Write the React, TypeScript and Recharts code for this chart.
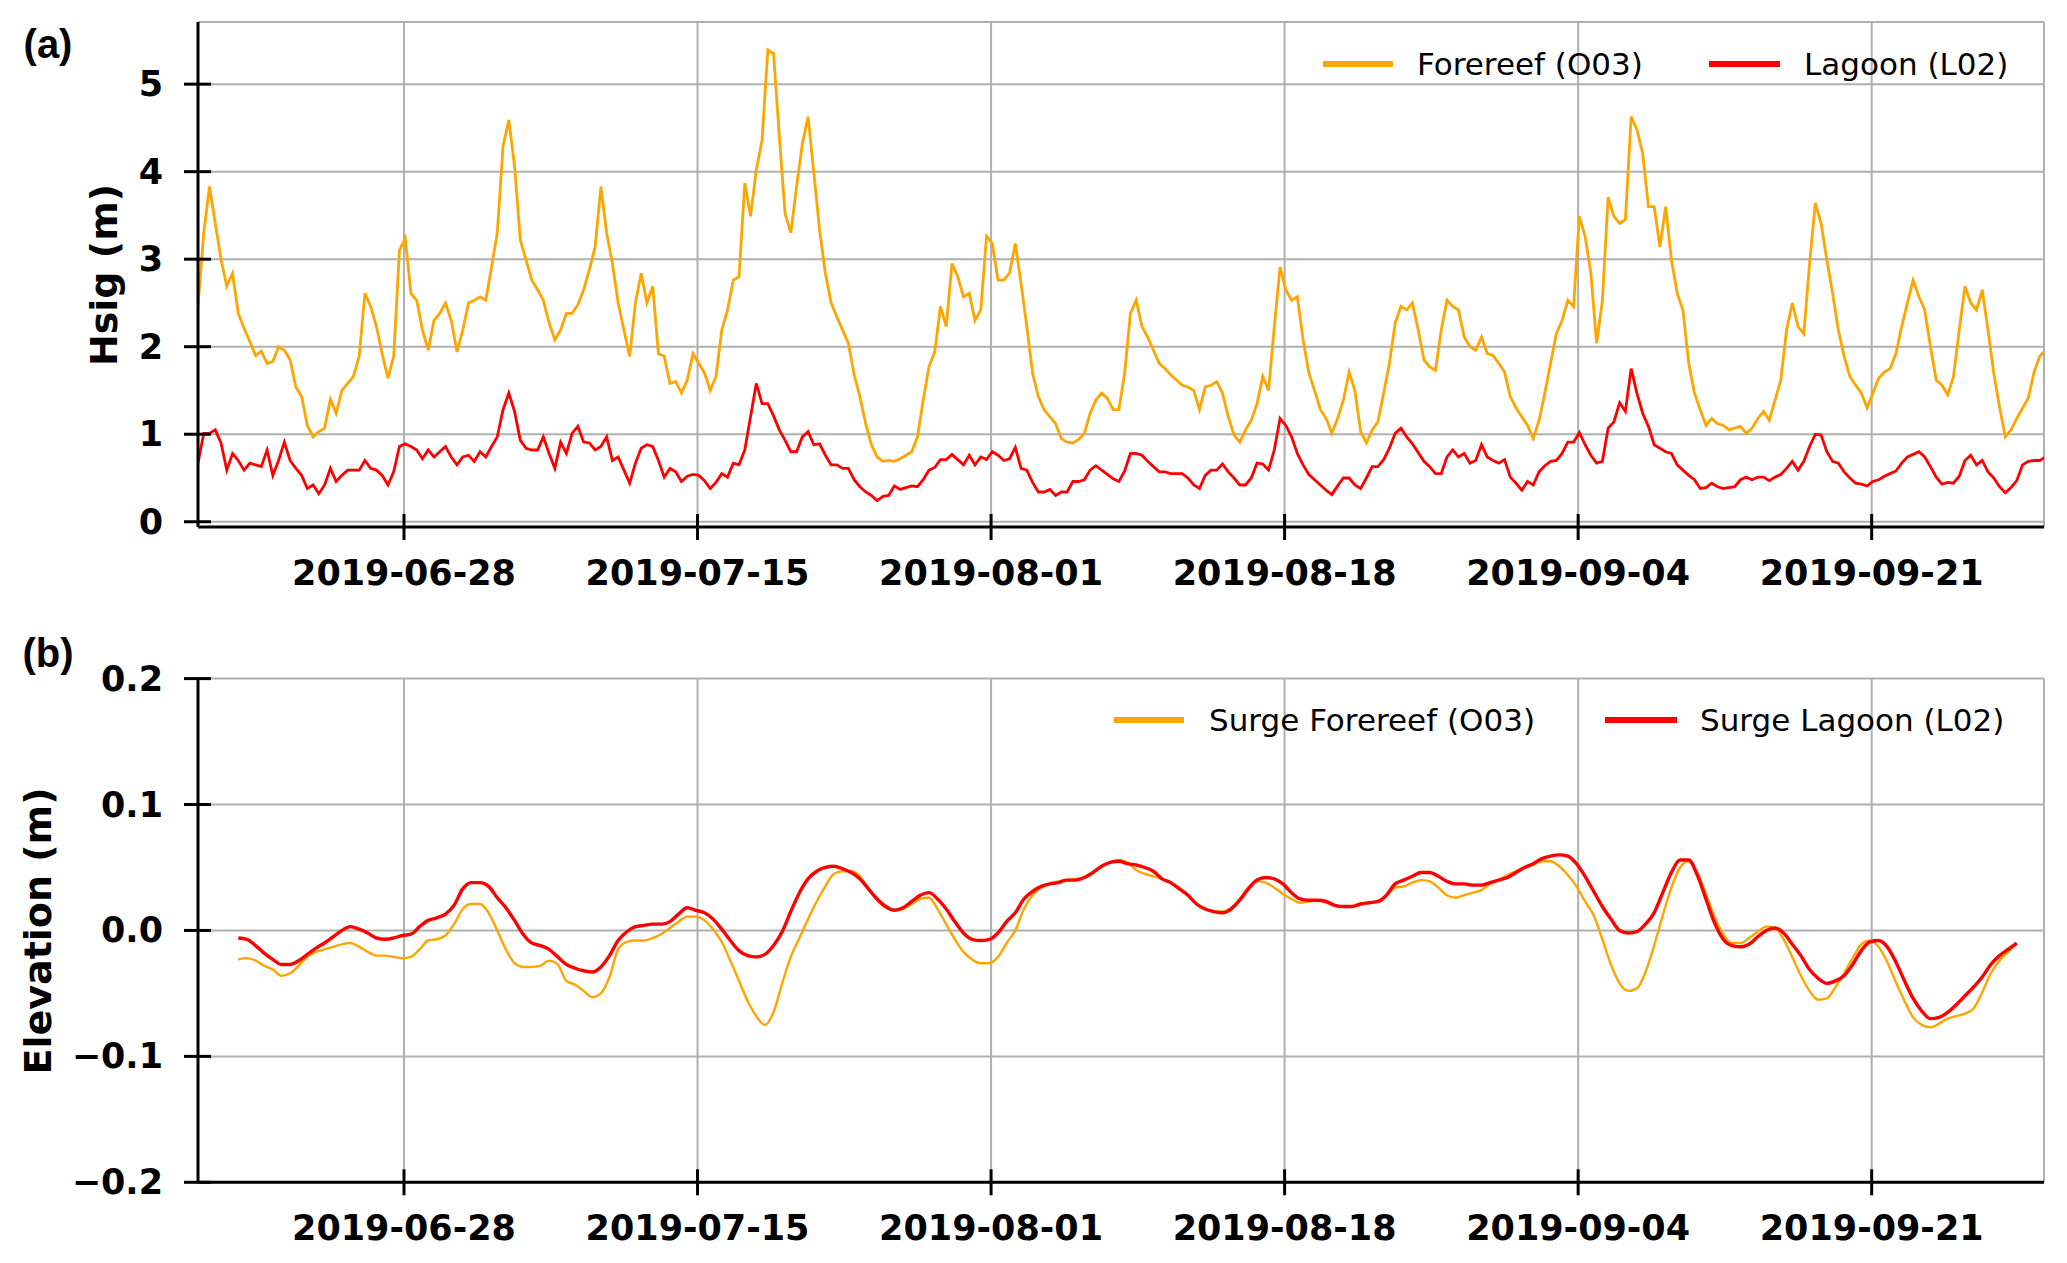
import React from 'react';
import { LineChart, Line, XAxis, YAxis, CartesianGrid, Legend } from 'recharts';

const FONT = '"DejaVu Sans", sans-serif';
const ORANGE = '#ffa500';
const RED = '#ff0000';

const tickDates = ['2019-06-28', '2019-07-15', '2019-08-01', '2019-08-18', '2019-09-04', '2019-09-21'];
const hsigTicks = [0, 1, 2, 3, 4, 5];
const elevTicks = [-0.2, -0.1, 0, 0.1, 0.2];
const elevTickLabels = ['\u22120.2', '\u22120.1', '0.0', '0.1', '0.2'];

// days counted from 2019-06-16 00:00
const ORIGIN = '2019-06-16';
const X_DOMAIN = [0.07, 106.98];

// Hsig (m), one reading every 8 h
const HSIG_START = 0.07;
const HSIG_STEP = 1 / 3;
const forereef = [
  2.46, 3.30, 3.83, 3.41, 3.00, 2.69, 2.84, 2.38, 2.21, 2.06,
  1.90, 1.95, 1.81, 1.83, 2.00, 1.96, 1.85, 1.54, 1.43, 1.10,
  0.97, 1.03, 1.07, 1.40, 1.24, 1.50, 1.58, 1.66, 1.89, 2.61,
  2.46, 2.23, 1.92, 1.64, 1.89, 3.10, 3.24, 2.61, 2.53, 2.19,
  1.96, 2.30, 2.38, 2.50, 2.30, 1.94, 2.19, 2.50, 2.53, 2.57,
  2.53, 2.91, 3.30, 4.29, 4.59, 4.06, 3.22, 2.99, 2.76, 2.65,
  2.53, 2.27, 2.08, 2.19, 2.38, 2.38, 2.48, 2.65, 2.88, 3.14,
  3.83, 3.30, 2.95, 2.50, 2.19, 1.89, 2.50, 2.84, 2.50, 2.69,
  1.92, 1.89, 1.58, 1.60, 1.47, 1.62, 1.92, 1.81, 1.70, 1.50,
  1.66, 2.19, 2.42, 2.76, 2.80, 3.87, 3.49, 4.02, 4.36, 5.39,
  5.35, 4.40, 3.52, 3.30, 3.83, 4.32, 4.63, 3.98, 3.33, 2.84,
  2.50, 2.34, 2.19, 2.04, 1.68, 1.43, 1.12, 0.88, 0.74, 0.69,
  0.70, 0.69, 0.72, 0.76, 0.80, 0.97, 1.39, 1.77, 1.94, 2.46,
  2.23, 2.95, 2.80, 2.57, 2.61, 2.30, 2.42, 3.26, 3.18, 2.76,
  2.76, 2.84, 3.18, 2.72, 2.23, 1.70, 1.43, 1.28, 1.20, 1.12,
  0.95, 0.91, 0.90, 0.94, 1.01, 1.24, 1.39, 1.47, 1.41, 1.28,
  1.28, 1.70, 2.38, 2.53, 2.23, 2.11, 1.96, 1.81, 1.75, 1.68,
  1.62, 1.56, 1.54, 1.50, 1.28, 1.54, 1.56, 1.60, 1.47, 1.20,
  0.99, 0.91, 1.05, 1.16, 1.35, 1.66, 1.50, 2.23, 2.91, 2.65,
  2.53, 2.57, 2.08, 1.70, 1.50, 1.28, 1.18, 1.01, 1.18, 1.39,
  1.71, 1.50, 1.03, 0.90, 1.05, 1.14, 1.47, 1.81, 2.27, 2.46,
  2.42, 2.50, 2.19, 1.85, 1.77, 1.73, 2.19, 2.53, 2.46, 2.42,
  2.11, 2.00, 1.96, 2.11, 1.92, 1.90, 1.81, 1.71, 1.43, 1.30,
  1.20, 1.10, 0.95, 1.16, 1.47, 1.81, 2.15, 2.30, 2.53, 2.46,
  3.49, 3.26, 2.84, 2.04, 2.53, 3.71, 3.49, 3.41, 3.45, 4.63,
  4.48, 4.21, 3.60, 3.60, 3.14, 3.60, 2.99, 2.61, 2.42, 1.81,
  1.47, 1.28, 1.10, 1.18, 1.12, 1.10, 1.05, 1.07, 1.09, 1.01,
  1.07, 1.18, 1.26, 1.16, 1.39, 1.62, 2.19, 2.50, 2.23, 2.15,
  2.95, 3.64, 3.41, 2.99, 2.61, 2.19, 1.89, 1.66, 1.56, 1.47,
  1.30, 1.47, 1.64, 1.71, 1.75, 1.92, 2.23, 2.50, 2.76, 2.57,
  2.42, 2.00, 1.62, 1.56, 1.45, 1.66, 2.19, 2.69, 2.50, 2.42,
  2.65, 2.19, 1.70, 1.31, 0.97, 1.05, 1.18, 1.30, 1.41, 1.71,
  1.89, 1.96,
];
const lagoon = [
  0.67, 1.01, 1.01, 1.05, 0.90, 0.59, 0.78, 0.70, 0.59, 0.67,
  0.65, 0.63, 0.82, 0.53, 0.70, 0.91, 0.70, 0.61, 0.53, 0.38,
  0.42, 0.32, 0.42, 0.61, 0.46, 0.53, 0.59, 0.59, 0.59, 0.70,
  0.61, 0.59, 0.53, 0.42, 0.57, 0.86, 0.89, 0.86, 0.82, 0.72,
  0.82, 0.74, 0.80, 0.86, 0.74, 0.65, 0.74, 0.76, 0.69, 0.80,
  0.74, 0.86, 0.97, 1.28, 1.47, 1.26, 0.93, 0.84, 0.82, 0.82,
  0.97, 0.78, 0.61, 0.91, 0.78, 1.01, 1.09, 0.91, 0.90, 0.82,
  0.86, 0.97, 0.70, 0.74, 0.59, 0.44, 0.67, 0.84, 0.88, 0.86,
  0.70, 0.51, 0.61, 0.57, 0.46, 0.52, 0.54, 0.53, 0.47, 0.38,
  0.45, 0.55, 0.51, 0.67, 0.65, 0.82, 1.20, 1.58, 1.35, 1.35,
  1.21, 1.05, 0.93, 0.80, 0.80, 0.97, 1.03, 0.88, 0.89, 0.76,
  0.65, 0.65, 0.61, 0.61, 0.48, 0.40, 0.34, 0.30, 0.24, 0.29,
  0.30, 0.41, 0.37, 0.39, 0.41, 0.40, 0.48, 0.59, 0.62, 0.71,
  0.71, 0.77, 0.71, 0.65, 0.76, 0.65, 0.74, 0.71, 0.80, 0.76,
  0.70, 0.72, 0.85, 0.61, 0.59, 0.45, 0.34, 0.34, 0.37, 0.30,
  0.34, 0.34, 0.46, 0.46, 0.48, 0.59, 0.64, 0.59, 0.54, 0.49,
  0.46, 0.58, 0.78, 0.78, 0.76, 0.69, 0.63, 0.57, 0.57, 0.55,
  0.55, 0.55, 0.50, 0.42, 0.38, 0.53, 0.59, 0.59, 0.66, 0.57,
  0.50, 0.42, 0.42, 0.50, 0.67, 0.66, 0.59, 0.82, 1.18, 1.10,
  0.97, 0.78, 0.65, 0.54, 0.48, 0.42, 0.36, 0.31, 0.41, 0.50,
  0.50, 0.42, 0.38, 0.50, 0.63, 0.63, 0.71, 0.84, 1.01, 1.07,
  0.97, 0.89, 0.79, 0.69, 0.63, 0.55, 0.55, 0.74, 0.82, 0.74,
  0.78, 0.67, 0.70, 0.88, 0.74, 0.70, 0.67, 0.71, 0.51, 0.44,
  0.36, 0.46, 0.42, 0.57, 0.64, 0.69, 0.70, 0.78, 0.91, 0.91,
  1.02, 0.88, 0.76, 0.67, 0.69, 1.07, 1.14, 1.36, 1.26, 1.75,
  1.47, 1.24, 1.09, 0.88, 0.84, 0.80, 0.78, 0.65, 0.59, 0.53,
  0.48, 0.38, 0.39, 0.44, 0.40, 0.38, 0.39, 0.40, 0.48, 0.51,
  0.48, 0.51, 0.51, 0.47, 0.51, 0.54, 0.61, 0.69, 0.59, 0.69,
  0.86, 1.00, 0.99, 0.80, 0.69, 0.67, 0.57, 0.50, 0.44, 0.43,
  0.41, 0.46, 0.48, 0.52, 0.55, 0.58, 0.67, 0.74, 0.77, 0.80,
  0.74, 0.63, 0.51, 0.43, 0.45, 0.44, 0.52, 0.70, 0.76, 0.65,
  0.70, 0.57, 0.50, 0.40, 0.33, 0.39, 0.47, 0.65, 0.69, 0.70,
  0.70, 0.74,
];

// surge elevation (m), one value every 12 h
const SURGE_START = 2.4;
const SURGE_STEP = 0.5;
const surgeForereef = [
  -0.023, -0.022, -0.024, -0.028, -0.031, -0.036, -0.034, -0.028, -0.021, -0.017,
  -0.015, -0.013, -0.011, -0.010, -0.013, -0.017, -0.020, -0.020, -0.021, -0.022,
  -0.021, -0.015, -0.008, -0.007, -0.004, 0.005, 0.017, 0.021, 0.021, 0.014,
  0.000, -0.015, -0.026, -0.029, -0.029, -0.028, -0.024, -0.027, -0.040, -0.043,
  -0.048, -0.053, -0.050, -0.037, -0.015, -0.009, -0.008, -0.008, -0.006, -0.003,
  0.002, 0.007, 0.011, 0.011, 0.008, 0.001, -0.009, -0.024, -0.040, -0.056,
  -0.068, -0.075, -0.065, -0.042, -0.021, -0.006, 0.009, 0.023, 0.035, 0.045,
  0.047, 0.047, 0.043, 0.033, 0.024, 0.018, 0.016, 0.017, 0.021, 0.025,
  0.026, 0.017, 0.005, -0.007, -0.017, -0.023, -0.026, -0.026, -0.021, -0.010,
  0.000, 0.017, 0.028, 0.034, 0.037, 0.039, 0.040, 0.041, 0.042, 0.046,
  0.051, 0.054, 0.056, 0.054, 0.048, 0.045, 0.043, 0.041, 0.038, 0.034,
  0.028, 0.021, 0.017, 0.015, 0.015, 0.018, 0.025, 0.034, 0.039, 0.038,
  0.034, 0.029, 0.025, 0.022, 0.023, 0.024, 0.022, 0.020, 0.019, 0.019,
  0.021, 0.022, 0.023, 0.028, 0.034, 0.035, 0.038, 0.040, 0.039, 0.034,
  0.028, 0.026, 0.028, 0.030, 0.032, 0.037, 0.040, 0.044, 0.047, 0.050,
  0.052, 0.055, 0.055, 0.051, 0.044, 0.035, 0.023, 0.012, -0.007, -0.027,
  -0.042, -0.048, -0.046, -0.033, -0.012, 0.012, 0.034, 0.050, 0.055, 0.046,
  0.029, 0.011, -0.003, -0.010, -0.010, -0.006, -0.001, 0.003, 0.002, -0.007,
  -0.021, -0.036, -0.048, -0.055, -0.054, -0.045, -0.034, -0.022, -0.011, -0.008,
  -0.013, -0.025, -0.041, -0.056, -0.069, -0.075, -0.077, -0.074, -0.070, -0.068,
  -0.066, -0.062, -0.049, -0.034, -0.024, -0.017, -0.010,
];
const surgeLagoon = [
  -0.006, -0.007, -0.012, -0.018, -0.023, -0.027, -0.027, -0.024, -0.019, -0.014,
  -0.010, -0.005, 0.000, 0.003, 0.001, -0.002, -0.006, -0.007, -0.006, -0.004,
  -0.003, 0.003, 0.008, 0.010, 0.013, 0.020, 0.033, 0.038, 0.038, 0.035,
  0.026, 0.018, 0.008, -0.003, -0.010, -0.012, -0.015, -0.021, -0.027, -0.030,
  -0.032, -0.033, -0.029, -0.020, -0.008, -0.001, 0.003, 0.004, 0.005, 0.005,
  0.007, 0.013, 0.018, 0.016, 0.014, 0.009, 0.001, -0.008, -0.016, -0.020,
  -0.021, -0.019, -0.012, -0.001, 0.015, 0.030, 0.041, 0.047, 0.050, 0.051,
  0.049, 0.046, 0.041, 0.033, 0.025, 0.019, 0.016, 0.018, 0.023, 0.028,
  0.030, 0.025, 0.017, 0.007, -0.002, -0.007, -0.008, -0.007, -0.002, 0.007,
  0.014, 0.025, 0.031, 0.035, 0.037, 0.038, 0.040, 0.040, 0.042, 0.046,
  0.051, 0.054, 0.055, 0.053, 0.052, 0.050, 0.047, 0.041, 0.038, 0.033,
  0.028, 0.021, 0.017, 0.015, 0.014, 0.017, 0.024, 0.033, 0.040, 0.042,
  0.041, 0.037, 0.030, 0.025, 0.024, 0.024, 0.023, 0.020, 0.019, 0.019,
  0.021, 0.022, 0.023, 0.028, 0.037, 0.040, 0.043, 0.046, 0.046, 0.043,
  0.039, 0.037, 0.037, 0.036, 0.036, 0.038, 0.040, 0.042, 0.046, 0.050,
  0.053, 0.057, 0.059, 0.060, 0.059, 0.053, 0.043, 0.031, 0.019, 0.009,
  0.000, -0.002, -0.001, 0.005, 0.014, 0.030, 0.046, 0.056, 0.056, 0.044,
  0.025, 0.006, -0.007, -0.012, -0.013, -0.011, -0.005, 0.000, 0.002, -0.002,
  -0.011, -0.020, -0.031, -0.038, -0.042, -0.040, -0.036, -0.027, -0.016, -0.009,
  -0.008, -0.013, -0.025, -0.040, -0.054, -0.064, -0.070, -0.069, -0.065, -0.059,
  -0.052, -0.045, -0.037, -0.027, -0.020, -0.015, -0.010,
];

const dayOf = (s: string) => (Date.parse(s) - Date.parse(ORIGIN)) / 86400000;
const tickDays = tickDates.map(dayOf);

const hsigData = forereef.map((v, i) => ({ t: HSIG_START + i * HSIG_STEP, fore: v, lag: lagoon[i] }));
const surgeData = surgeForereef.map((v, i) => ({ t: SURGE_START + i * SURGE_STEP, fore: v, lag: surgeLagoon[i] }));

const dateLabel = (v: number) => {
  const i = tickDays.findIndex((d) => Math.abs(d - v) < 0.01);
  return i >= 0 ? tickDates[i] : '';
};

const XTick = (props: any) => {
  const { x, y, payload } = props;
  return (
    <g>
      <line x1={x} x2={x} y1={y - 13} y2={y + 13} stroke="#000" strokeWidth={3} />
      <text x={x} y={y + 46} textAnchor="middle" dominantBaseline="central"
        fontFamily={FONT} fontWeight="bold" fontSize={35} fill="#000">
        {dateLabel(payload.value)}
      </text>
    </g>
  );
};

const makeYTick = (fmt: (v: number) => string) => (props: any) => {
  const { x, y, payload } = props;
  return (
    <g>
      <line x1={x - 14} x2={x + 13} y1={y} y2={y} stroke="#000" strokeWidth={3} />
      <text x={x - 35} y={y} textAnchor="end" dominantBaseline="central"
        fontFamily={FONT} fontWeight="bold" fontSize={35} fill="#000">
        {fmt(payload.value)}
      </text>
    </g>
  );
};

const HsigTick = makeYTick((v) => String(v));
const ElevTick = makeYTick((v) => {
  const i = elevTicks.findIndex((d) => Math.abs(d - v) < 1e-6);
  return i >= 0 ? elevTickLabels[i] : '';
});

type LegendItem = { color: string; label: string; x: number; w: number; textX: number };

const makeLegend = (items: LegendItem[], cy: number) => () => (
  <div style={{ position: 'relative', width: 0, height: 0 }}>
    {items.map((it) => (
      <React.Fragment key={it.label}>
        <div style={{ position: 'absolute', left: it.x, top: cy - 3, width: it.w, height: 6, background: it.color }} />
        <div style={{
          position: 'absolute', left: it.textX, top: cy - 20, height: 40, lineHeight: '40px',
          fontFamily: FONT, fontSize: 31, color: '#000', whiteSpace: 'nowrap',
        }}>{it.label}</div>
      </React.Fragment>
    ))}
  </div>
);

const legendA = makeLegend([
  { color: ORANGE, label: 'Forereef (O03)', x: 1323, w: 70, textX: 1417 },
  { color: RED, label: 'Lagoon (L02)', x: 1709, w: 71, textX: 1804 },
], 64);

const legendB = makeLegend([
  { color: ORANGE, label: 'Surge Forereef (O03)', x: 1114, w: 70, textX: 1209 },
  { color: RED, label: 'Surge Lagoon (L02)', x: 1605, w: 72, textX: 1700 },
], 100);

const axisLine = { stroke: '#000', strokeWidth: 3 };
const legendWrap = { left: 0, top: 0, width: 0, height: 0, bottom: 'auto', right: 'auto' } as any;

const abs = (left: number, top: number): React.CSSProperties => ({ position: 'absolute', left, top });
const panelTag: React.CSSProperties = {
  transform: 'translate(-50%, -50%)', fontFamily: '"Liberation Sans", Arial, sans-serif',
  fontWeight: 'bold', fontSize: 40, lineHeight: 1,
};
const axisTitle: React.CSSProperties = {
  transform: 'translate(-50%, -50%) rotate(-90deg)', fontFamily: FONT,
  fontWeight: 'bold', fontSize: 38, whiteSpace: 'nowrap',
};

const App = () => (
  <div style={{ position: 'absolute', left: 0, top: 0, width: 2067, height: 1263, background: '#fff', overflow: 'hidden' }}>
    <div style={abs(0, 0)}>
      <LineChart width={2067} height={620} data={hsigData} margin={{ top: 22, right: 23, bottom: 13, left: 0 }}>
        <CartesianGrid stroke="#b0b0b0" strokeWidth={2} />
        <XAxis dataKey="t" type="number" domain={X_DOMAIN} allowDataOverflow ticks={tickDays} interval={0}
          height={80} tickSize={0} tickMargin={0} tickLine={false} axisLine={axisLine} tick={<XTick />} />
        <XAxis xAxisId="top" dataKey="t" type="number" domain={X_DOMAIN} allowDataOverflow orientation="top"
          height={0} tick={false} tickLine={false} axisLine={axisLine} />
        <YAxis type="number" domain={[-0.06, 5.71]} allowDataOverflow ticks={hsigTicks} interval={0}
          width={198} tickSize={0} tickMargin={0} tickLine={false} axisLine={axisLine} tick={<HsigTick />} />
        <YAxis yAxisId="right" orientation="right" type="number" domain={[-0.06, 5.71]} allowDataOverflow
          width={0} tick={false} tickLine={false} axisLine={axisLine} />
        <Legend content={legendA} wrapperStyle={legendWrap} />
        <Line dataKey="fore" name="Forereef (O03)" type="linear" stroke={ORANGE} strokeWidth={2.8} dot={false} isAnimationActive={false} />
        <Line dataKey="lag" name="Lagoon (L02)" type="linear" stroke={RED} strokeWidth={2.8} dot={false} isAnimationActive={false} />
      </LineChart>
    </div>
    <div style={abs(0, 620)}>
      <LineChart width={2067} height={643} data={surgeData} margin={{ top: 58.6, right: 23, bottom: 10.7, left: 0 }}>
        <CartesianGrid stroke="#b0b0b0" strokeWidth={2} />
        <XAxis dataKey="t" type="number" domain={X_DOMAIN} allowDataOverflow ticks={tickDays} interval={0}
          height={70} tickSize={0} tickMargin={0} tickLine={false} axisLine={axisLine} tick={<XTick />} />
        <XAxis xAxisId="top" dataKey="t" type="number" domain={X_DOMAIN} allowDataOverflow orientation="top"
          height={0} tick={false} tickLine={false} axisLine={axisLine} />
        <YAxis type="number" domain={[-0.2, 0.2]} allowDataOverflow ticks={elevTicks} interval={0}
          width={198} tickSize={0} tickMargin={0} tickLine={false} axisLine={axisLine} tick={<ElevTick />} />
        <YAxis yAxisId="right" orientation="right" type="number" domain={[-0.2, 0.2]} allowDataOverflow
          width={0} tick={false} tickLine={false} axisLine={axisLine} />
        <Legend content={legendB} wrapperStyle={legendWrap} />
        <Line dataKey="fore" name="Surge Forereef (O03)" type="monotone" stroke={ORANGE} strokeWidth={2.4} dot={false} isAnimationActive={false} />
        <Line dataKey="lag" name="Surge Lagoon (L02)" type="monotone" stroke={RED} strokeWidth={3.4} dot={false} isAnimationActive={false} />
      </LineChart>
    </div>

    <div style={{ ...abs(48, 44), ...panelTag }}>(a)</div>
    <div style={{ ...abs(48, 653), ...panelTag }}>(b)</div>
    <div style={{ ...abs(104, 275), ...axisTitle }}>Hsig (m)</div>
    <div style={{ ...abs(38, 931), ...axisTitle }}>Elevation (m)</div>
  </div>
);

export default App;
